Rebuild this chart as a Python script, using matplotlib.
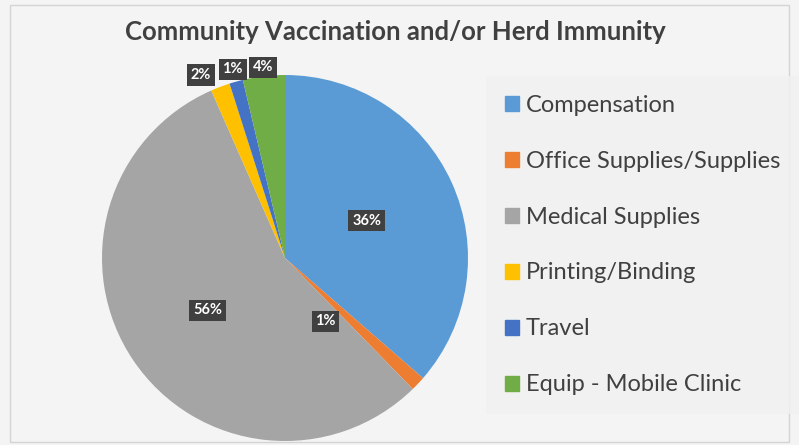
import numpy as np
import matplotlib.pyplot as plt
import matplotlib.patches as mpatches

labels = ['Compensation', 'Office Supplies/Supplies', 'Medical Supplies',
          'Printing/Binding', 'Travel', 'Equip - Mobile Clinic']
shares = [36.4, 1.3, 55.7, 1.7, 1.2, 3.7]
pct_text = ['36%', '1%', '56%', '2%', '1%', '4%']
colors = ['#5B9BD5', '#ED7D31', '#A5A5A5', '#FFC000', '#4472C4', '#70AD47']

# label placement: (radius, angle nudge in degrees) per slice
lab_r = [0.49, 0.41, 0.51, 1.10, 1.07, 1.05]
lab_da = [0, -14, 0, 4, 0, 0]

plt.rcParams['font.family'] = ['Lato', 'DejaVu Sans']
W, H = 799, 445
fig = plt.figure(figsize=(W / 100, H / 100), dpi=100)
fig.patch.set_facecolor('#f4f4f4')
fig.patches.append(mpatches.Rectangle((10 / W, 3 / H), 779 / W, 437 / H, transform=fig.transFigure,
                                      fill=False, edgecolor='#d4d4d4', linewidth=1))

cx, cy, r = 285, 258, 183
ax = fig.add_axes([(cx - r) / W, (H - cy - r) / H, 2 * r / W, 2 * r / H])
wedges, _ = ax.pie(shares, colors=colors, startangle=90, counterclock=False,
                   wedgeprops=dict(linewidth=0))
ax.set_xlim(-1, 1)
ax.set_ylim(-1, 1)
ax.axis('off')

for w, t, rr, da in zip(wedges, pct_text, lab_r, lab_da):
    a = np.deg2rad((w.theta1 + w.theta2) / 2 + da)
    ax.text(rr * np.cos(a), rr * np.sin(a), t, ha='center', va='center', color='white',
            fontsize=10.5, fontweight='bold',
            bbox=dict(boxstyle='square,pad=0.25', facecolor='#404040', edgecolor='none'))

fig.text(395 / W, 1 - 32 / H, 'Community Vaccination and/or Herd Immunity', ha='center', va='center',
         fontsize=18.5, fontweight='bold', color='#404040')

handles = [mpatches.Patch(color=c, label=l) for c, l in zip(colors, labels)]
leg = fig.legend(handles=handles, loc='center left', bbox_to_anchor=(493 / W, 1 - 245 / H),
                 fontsize=17, frameon=True, labelspacing=1.48, handlelength=0.6, handleheight=0.6,
                 handletextpad=0.3, borderpad=0.5, borderaxespad=0)
leg.get_frame().set_facecolor('#f1f1f1')
leg.get_frame().set_edgecolor('none')
leg.get_frame().set_boxstyle('square')
for txt in leg.get_texts():
    txt.set_color('#404040')

fig.savefig('out.png', dpi=100, facecolor=fig.get_facecolor())
